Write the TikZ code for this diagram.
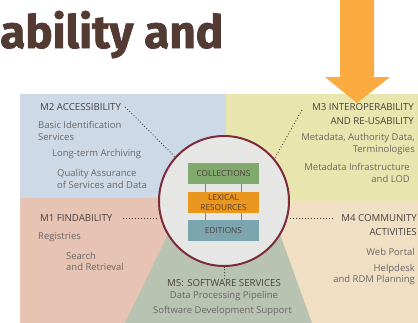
\documentclass[tikz,border=0pt]{standalone}
\usepackage{fontspec}
\setmainfont{Open Sans}
\newfontfamily\titlefont{Fira Sans}[BoldFeatures={FakeBold=1.6}]
\usetikzlibrary{positioning, calc}

\definecolor{bluepanel}{HTML}{CDD9E6}
\definecolor{yellowpanel}{HTML}{E8E6AE}
\definecolor{pinkpanel}{HTML}{E6C3B2}
\definecolor{beigepanel}{HTML}{F1DFC3}
\definecolor{greenpanel}{HTML}{B9C3B1}
\definecolor{hubfill}{HTML}{E6E6E4}
\definecolor{hubborder}{HTML}{7B2B3B}
\definecolor{collgreen}{HTML}{80A96E}
\definecolor{lexorange}{HTML}{E9971E}
\definecolor{editteal}{HTML}{7BA5AF}
\definecolor{headgray}{HTML}{4A3E3E}
\definecolor{itemgray}{HTML}{6A6666}
\definecolor{titlebrown}{HTML}{533A33}
\definecolor{arroworange}{HTML}{FBAB40}

\begin{document}
\begin{tikzpicture}[x=1bp, y=1bp,
		heading/.style={text=headgray, inner sep=0pt, font=\fontsize{9.7}{14}\selectfont},
		item/.style={text=itemgray, inner sep=0pt, font=\fontsize{9.5}{11.5}\selectfont},
		link/.style={draw=headgray, line width=0.9bp, dash pattern=on 0.9bp off 2.1bp}
	]
	\tikzstyle{Box} = [ %the three resource layers
		minimum width=71bp,
		minimum height=21bp,
		inner sep=0pt,
		text centered,
		font=\fontsize{8.3}{9}\selectfont
	]
	\useasboundingbox (0,0) rectangle (418,-323);
	\clip (0,0) rectangle (418,-323);

	% quadrants
	\fill[bluepanel] (20,-94) rectangle (226,-198);
	\fill[yellowpanel] (226,-94) rectangle (418,-202);
	\fill[pinkpanel] (20,-198) rectangle (226,-323);
	\fill[beigepanel] (226,-202) rectangle (418,-323);
	\fill[greenpanel] (184,-201) -- (268,-201) -- (312,-323) -- (125,-323) -- cycle;

	% hub with resources
	\node (hub) [circle, minimum size=130bp, fill=hubfill, draw=hubborder, line width=2bp] at (224,-201) {};
	\node (lex) [Box, fill=lexorange, text=titlebrown, align=center, font=\fontsize{8.3}{10.5}\selectfont] at (223.5,-202.5) {LEXICAL\\RESOURCES};
	\node (coll) [Box, fill=collgreen, text=headgray, above = 8bp of lex] {COLLECTIONS};
	\node (edit) [Box, fill=editteal, text=headgray, below = 7bp of lex] {EDITIONS};
	\foreach \dx in {-18.5, 18.5} {
		\draw[gray, line width=1bp] ([xshift=\dx]coll.south) -- ([xshift=\dx]lex.north);
		\draw[gray, line width=1bp] ([xshift=\dx]lex.south) -- ([xshift=\dx]edit.north);
	}

	% M2
	\node (m2) [heading, anchor=west] at (40,-107) {M2 ACCESSIBILITY};
	\node (basic) [item, anchor=west, align=left] at (38,-131) {Basic Identification\\Services};
	\node (archive) [item, anchor=west] at (52,-154) {Long-term Archiving};
	\node (quality) [item, anchor=west, align=left] at (57,-179) {Quality Assurance\\of Services and Data};
	\draw[link] ([xshift=4bp]m2.east) -- (hub.138);

	% M3
	\node (m3) [heading, anchor=east, align=right] at (414,-114) {M3 INTEROPERABILITY\\AND RE-USABILITY};
	\node (meta) [item, anchor=east, align=right] at (415,-144) {Metadata, Authority Data,\\Terminologies};
	\node (infra) [item, anchor=east, align=right] at (410,-173) {Metadata Infrastructure\\and LOD};
	\draw[link] ([shift={(-10bp,4bp)}]m3.west) -- (hub.40);

	% M1
	\node (m1) [heading, anchor=west] at (40,-218) {M1 FINDABILITY};
	\node (registries) [item, anchor=west] at (38,-237) {Registries};
	\node (search) [item, anchor=west, align=left] at (66,-261.5) {Search\\and Retrieval};
	\draw[link] ([xshift=10bp]m1.east) -- (hub.west |- m1.east);

	% M4
	\node (m4) [heading, anchor=east, align=right] at (417,-225) {M4 COMMUNITY\\ACTIVITIES};
	\node (portal) [item, anchor=east] at (415,-252) {Web Portal};
	\node (helpdesk) [item, anchor=east, align=right] at (415,-274.5) {Helpdesk\\and RDM Planning};
	\draw[link] ([xshift=-8bp]m4.north west |- 0,-218) coordinate (m4end) -- (hub.east |- m4end);

	% M5
	\node (m5) [heading] at (224,-283) {M5: SOFTWARE SERVICES};
	\node (pipeline) [item] at (224,-296) {Data Processing Pipeline};
	\node (devsupport) [item] at (222.5,-311) {Software Development Support};
	\draw[link] (m5.north) -- (hub.south);

	% title and pointer
	\node (title) [anchor=base west, inner sep=0pt, text=titlebrown, font=\titlefont\bfseries\fontsize{46}{46}\selectfont] at (0,-48) {ability and};
	\fill[arroworange] (340,0) -- (374,0) -- (374,-77) -- (390,-77) -- (357,-103) -- (325,-77) -- (340,-77) -- cycle;
\end{tikzpicture}
\end{document}
